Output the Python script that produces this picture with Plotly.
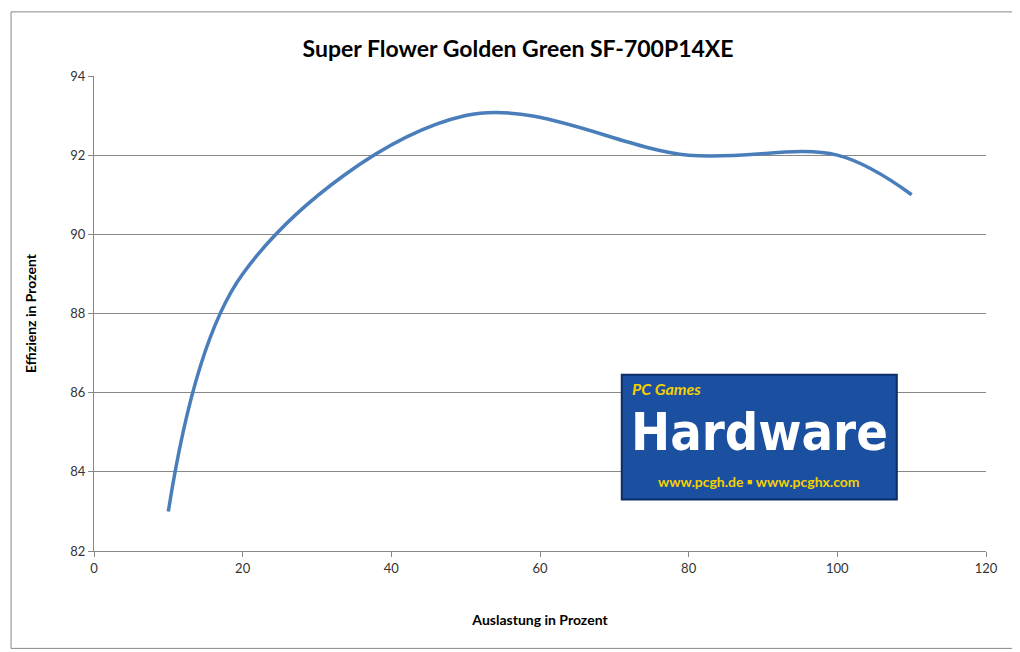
import plotly.graph_objects as go

load_percent = [10, 20, 50, 80, 100, 110]
efficiency = [83.0, 89.0, 93.0, 92.0, 92.0, 91.0]

x_ticks = [0, 20, 40, 60, 80, 100, 120]
y_ticks = [82, 84, 86, 88, 90, 92, 94]

fig = go.Figure()
fig.add_trace(go.Scatter(x=load_percent, y=efficiency, mode="lines",
                         line=dict(color="#4a7ebb", width=3.5, shape="spline", smoothing=1.0),
                         showlegend=False))

font = "Lato, DejaVu Sans, sans-serif"
fig.update_layout(
    width=1020, height=652,
    margin=dict(l=86, r=42, t=68, b=109),
    paper_bgcolor="white", plot_bgcolor="white",
    title=dict(text="<b>Super Flower Golden Green SF-700P14XE</b>", x=0.5, y=0.95,
               xanchor="center", font=dict(family=font, size=23, color="black")),
    font=dict(family=font, size=13, color="#333"),
)
fig.update_xaxes(range=[0, 120], tickvals=x_ticks, showgrid=False, zeroline=False,
                 showline=True, linecolor="#888", ticks="outside", tickcolor="#888",
                 title=dict(text="<b>Auslastung in Prozent</b>", standoff=40,
                            font=dict(size=14, color="black")))
fig.update_yaxes(range=[82, 94], tickvals=y_ticks, showgrid=True, gridcolor="#888",
                 zeroline=False, showline=True, linecolor="#888", ticks="outside", tickcolor="#888",
                 title=dict(text="<b>Effizienz in Prozent</b>", standoff=30,
                            font=dict(size=14, color="black")))

# outer chart border
fig.add_shape(type="rect", xref="paper", yref="paper", x0=-0.093, x1=1.03, y0=-0.205, y1=1.135,
              line=dict(color="#888", width=1))

# logo approximation
fig.add_shape(type="rect", xref="x", yref="y", x0=71, x1=108, y0=83.3, y1=86.45,
              fillcolor="#1b4fa0", line=dict(color="#0b2e6a", width=2))
fig.add_annotation(x=89.5, y=85.0, xref="x", yref="y", text="<b>Hardware</b>", showarrow=False,
                   font=dict(family="DejaVu Sans Condensed, sans-serif", size=52, color="white"))
fig.add_annotation(x=77, y=86.1, xref="x", yref="y", text="<b><i>PC Games</i></b>", showarrow=False,
                   font=dict(family=font, size=16, color="#f5d000"))
fig.add_annotation(x=89.5, y=83.75, xref="x", yref="y", text="<b>www.pcgh.de ▪ www.pcghx.com</b>",
                   showarrow=False, font=dict(family=font, size=14, color="#f5d000"))

fig.write_html("out.html")
